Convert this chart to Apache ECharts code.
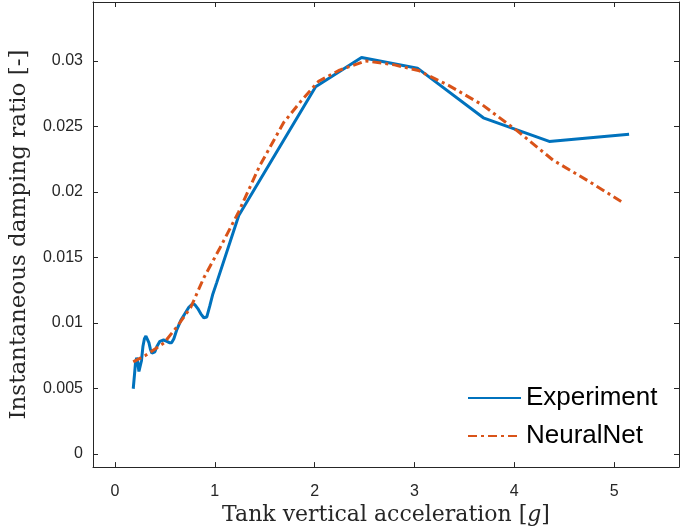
<!DOCTYPE html>
<html><head><meta charset="utf-8">
<script src="https://cdn.jsdelivr.net/npm/echarts@6/dist/echarts.min.js"></script>
<style>html,body{margin:0;padding:0;background:#fff}#c{width:685px;height:531px}</style>
</head><body><div id="c"></div>
<script>
var expX = [0.183,0.195,0.205,0.217,0.228,0.24,0.253,0.265,0.28,0.295,0.31,0.327,0.34,0.355,0.37,0.387,0.40,0.42,0.45,0.487,0.52,0.545,0.567,0.59,0.62,0.66,0.70,0.74,0.777,0.80,0.83,0.86,0.89,0.92,0.95,0.98,1.02,1.24,2.01,2.47,3.03,3.69,4.35,5.15];
var expY = [0.00498,0.0060,0.0069,0.00735,0.0070,0.0063,0.00623,0.0071,0.0082,0.0088,0.0090,0.0089,0.0085,0.0080,0.0077,0.0076,0.0078,0.0082,0.0086,0.0087,0.0086,0.0085,0.0085,0.0088,0.0095,0.0102,0.0107,0.0112,0.01146,0.0114,0.0111,0.0107,0.0104,0.01046,0.0113,0.0122,0.0131,0.0182,0.02803,0.03027,0.02945,0.02566,0.02386,0.02441];
var nnX = [0.183,0.30,0.49,0.62,0.76,0.89,1.05,1.24,1.45,1.69,1.86,2.04,2.25,2.51,2.80,3.04,3.35,3.68,4.03,4.39,4.75,5.09];
var nnY = [0.00703,0.0075,0.00847,0.0097,0.0112,0.01345,0.0157,0.0185,0.0220,0.0253,0.0269,0.02845,0.0293,0.0300,0.0297,0.02927,0.0281,0.02665,0.02466,0.02242,0.0208,0.01918];
var xTicks = [0,1,2,3,4,5];
var yTicks = [0,0.005,0.01,0.015,0.02,0.025,0.03];
var xRange = [-0.22, 5.65];
var yRange = [-0.001, 0.0345];

function pairs(xs, ys){ return xs.map(function(x,i){return [x, ys[i]];}); }
var axColor = '#262626';
var serif = 'DejaVu Serif, Liberation Serif, serif';
var labelFont = {fontFamily:'Liberation Sans, Arial, sans-serif', fontSize:16, color:axColor};
function xAx(pos, show){
  return {type:'value', position:pos, min:xRange[0], max:xRange[1],
    axisLine:{show:true, onZero:false, lineStyle:{color:axColor, width:1}},
    axisTick:{show:true, inside:true, length:5, customValues:xTicks, lineStyle:{color:axColor}},
    axisLabel:Object.assign({show:show, customValues:xTicks, margin:16}, labelFont),
    splitLine:{show:false}};
}
function yAx(pos, show){
  return {type:'value', position:pos, min:yRange[0], max:yRange[1],
    axisLine:{show:true, onZero:false, lineStyle:{color:axColor, width:1}},
    axisTick:{show:true, inside:true, length:5, customValues:yTicks, lineStyle:{color:axColor}},
    axisLabel:Object.assign({show:show, customValues:yTicks, margin:10,
      formatter:function(v){return String(+v.toFixed(4));}}, labelFont),
    splitLine:{show:false}};
}
var xa = xAx('bottom', true);
xa.name = '{a|Tank vertical acceleration [}{i|g}{a|]}';
xa.nameLocation = 'middle'; xa.nameGap = 24;
xa.nameTextStyle = {rich:{a:{fontFamily:serif, fontSize:22, color:axColor},
  i:{fontFamily:serif, fontStyle:'italic', fontSize:22, color:axColor}}};
var ya = yAx('left', true);
ya.name = 'Instantaneous damping ratio [-]';
ya.nameLocation = 'middle'; ya.nameGap = 62;
ya.nameTextStyle = {fontFamily:serif, fontSize:23, color:axColor};

var chart = echarts.init(document.getElementById('c'), null, {renderer:'canvas'});
chart.setOption({
  animation:false,
  grid:{left:92, right:6, top:2, bottom:54},
  xAxis:[xa, xAx('top', false)],
  yAxis:[ya, yAx('right', false)],
  legend:{left:462, top:380, orient:'vertical', itemWidth:53, itemHeight:14, itemGap:12,
    itemStyle:{opacity:0},
    textStyle:{fontFamily:'Liberation Sans, Arial, sans-serif', fontSize:26, color:'#000'},
    data:['Experiment','NeuralNet']},
  series:[
    {name:'Experiment', type:'line', data:pairs(expX, expY), symbol:'none', showSymbol:false,
     lineStyle:{color:'#0072BD', width:3}, itemStyle:{color:'#0072BD'}},
    {name:'NeuralNet', type:'line', data:pairs(nnX, nnY), symbol:'none', showSymbol:false,
     lineStyle:{color:'#D95319', width:3, type:[9,4,3,4]}, itemStyle:{color:'#D95319'}}
  ]
});
</script></body></html>
